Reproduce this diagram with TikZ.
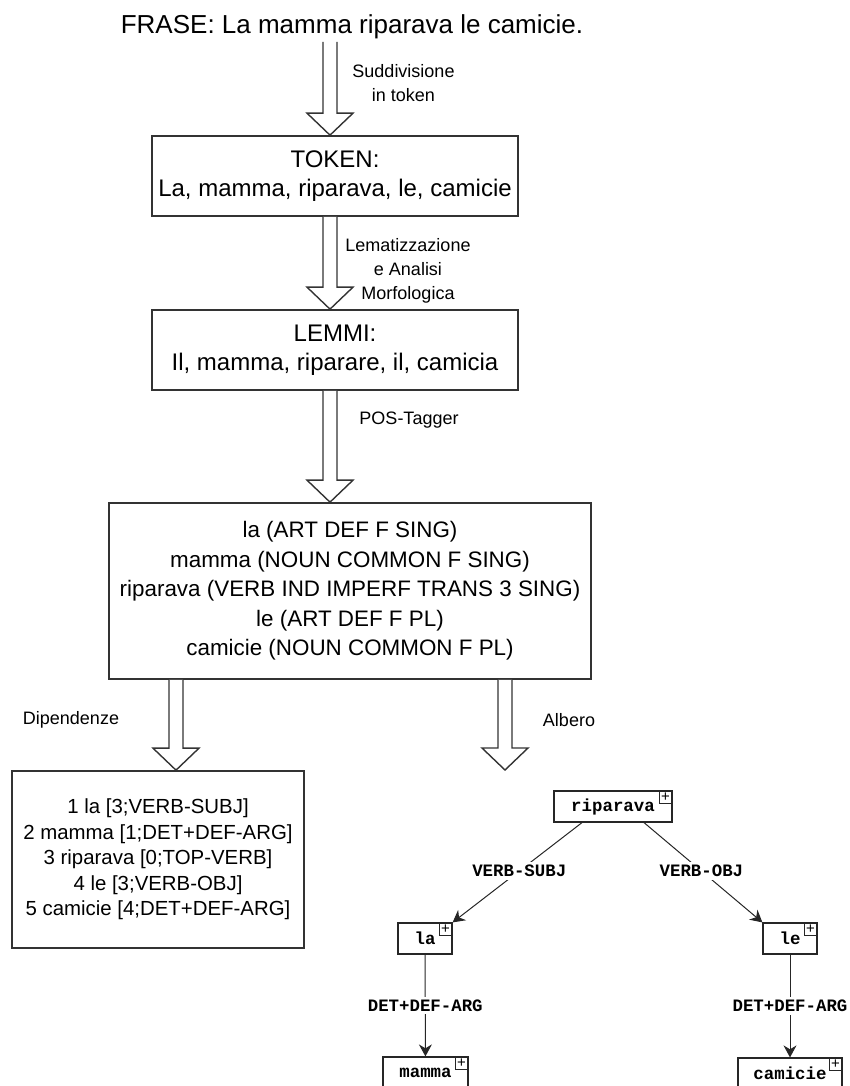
\documentclass[tikz,border=0pt]{standalone}
\usepackage{fontspec}
\setmainfont{Liberation Sans}
\setmonofont{Liberation Mono}
\usetikzlibrary{arrows.meta, calc, positioning}

\tikzset{
  box/.style={draw=black!80, line width=0.85pt, align=center, inner sep=0pt},
  hollow/.style={draw=black!80, line width=0.7pt, fill=white},
  steplabel/.style={align=center, font=\fontsize{9}{12}\selectfont},
  treenode/.style={draw=black!85, line width=0.6pt, font=\fontsize{8.7}{10}\selectfont\ttfamily\bfseries,
    minimum height=15.5pt, inner xsep=2pt, inner ysep=0pt},
  plusbox/.style={draw=black!85, line width=0.5pt, minimum size=6.5pt, inner sep=0pt,
    font=\fontsize{7.5}{7.5}\selectfont},
  treeedge/.style={draw=black!85, line width=0.5pt, -{Stealth[length=6pt,width=6.5pt]}},
  edgelabel/.style={fill=white, font=\fontsize{8.7}{10}\selectfont\ttfamily\bfseries, inner sep=1.5pt},
}

% hollow block arrow from #1 down to #2
\newcommand{\bigarrow}[2]{%
  \draw[hollow] let \p1=(#1), \p2=(#2) in
    (\x1-3.5pt,\y1) -- (\x1-3.5pt,\y2+11pt) -- (\x1-11.5pt,\y2+11pt) -- (\x2,\y2)
    -- (\x1+11.5pt,\y2+11pt) -- (\x1+3.5pt,\y2+11pt) -- (\x1+3.5pt,\y1);
}

\begin{document}
\begin{tikzpicture}[x=0.5pt, y=-0.5pt]
    \useasboundingbox (0,0) rectangle (850,1086);

    % Sentence and analysis steps
    \node[font=\fontsize{13}{15}\selectfont] (frase) at (352,27) {FRASE: La mamma riparava le camicie.};
    \node[box, minimum width=183pt, minimum height=40pt, font=\fontsize{12}{14.5}\selectfont]
        (token) at (335,176) {TOKEN:\\La, mamma, riparava, le, camicie};
    \node[box, minimum width=183pt, minimum height=40pt, font=\fontsize{12}{14.5}\selectfont]
        (lemmi) at (335,350) {LEMMI:\\Il, mamma, riparare, il, camicia};
    \node[box, minimum width=241pt, minimum height=88pt, font=\fontsize{11.2}{14.75}\selectfont]
        (pos) at (350,591) {la (ART DEF F SING)\\mamma (NOUN COMMON F SING)\\riparava (VERB IND IMPERF TRANS 3 SING)\\le (ART DEF F PL)\\camicie (NOUN COMMON F PL)};
    \node[box, minimum width=146pt, minimum height=88.5pt, font=\fontsize{10.2}{12.75}\selectfont]
        (dep) at (158,859.5) {1 la [3;VERB-SUBJ]\\2 mamma [1;DET+DEF-ARG]\\3 riparava [0;TOP-VERB]\\4 le [3;VERB-OBJ]\\5 camicie [4;DET+DEF-ARG]};

    % Arrow axes and free ends
    \coordinate (ax) at (330,0);
    \coordinate (dx) at (176,0);
    \coordinate (tx) at (505,0);
    \coordinate (start) at (330,42);
    \coordinate (albero-tip) at (505,770);

    % Block arrows
    \bigarrow{start}{token.north -| ax}
    \bigarrow{token.south -| ax}{lemmi.north -| ax}
    \bigarrow{lemmi.south -| ax}{pos.north -| ax}
    \bigarrow{pos.south -| dx}{dep.north -| dx}
    \bigarrow{pos.south -| tx}{albero-tip}

    % Step labels
    \node[steplabel] (lab-token) at (403.5,83) {Suddivisione\\in token};
    \node[steplabel] (lab-lemmi) at (408,270.5) {Lematizzazione\\e Analisi\\Morfologica};
    \node[steplabel] (lab-pos) at (409,420) {POS-Tagger};
    \node[steplabel] (lab-dep) at (71,720) {Dipendenze};
    \node[steplabel] (lab-tree) at (569,720) {Albero};

    % Parse tree
    \node[treenode, minimum width=59pt] (riparava) at (613,806.5) {riparava};
    \node[treenode, minimum width=27pt] (la) at (425,938.5) {la};
    \node[treenode, minimum width=27pt] (le) at (790,938.5) {le};
    \node[treenode, minimum width=42.5pt] (mamma) at (425.5,1072.5) {mamma};
    \node[treenode, minimum width=52pt] (camicie) at (790,1073.5) {camicie};
    \foreach \n in {riparava,la,le,mamma,camicie}
        \node[plusbox, anchor=north east] (\n-plus) at (\n.north east) {+};

    \draw[treeedge] ($(riparava.south)+(-31,0)$) -- node[edgelabel, pos=0.485] (subj) {VERB-SUBJ} (la.north east);
    \draw[treeedge] ($(riparava.south)+(31,0)$) -- node[edgelabel, pos=0.485] (obj) {VERB-OBJ} (le.north west);
    \draw[treeedge] (la) -- node[edgelabel] (la-arg) {DET+DEF-ARG} (mamma);
    \draw[treeedge] (le) -- node[edgelabel] (le-arg) {DET+DEF-ARG} (camicie);
\end{tikzpicture}
\end{document}
